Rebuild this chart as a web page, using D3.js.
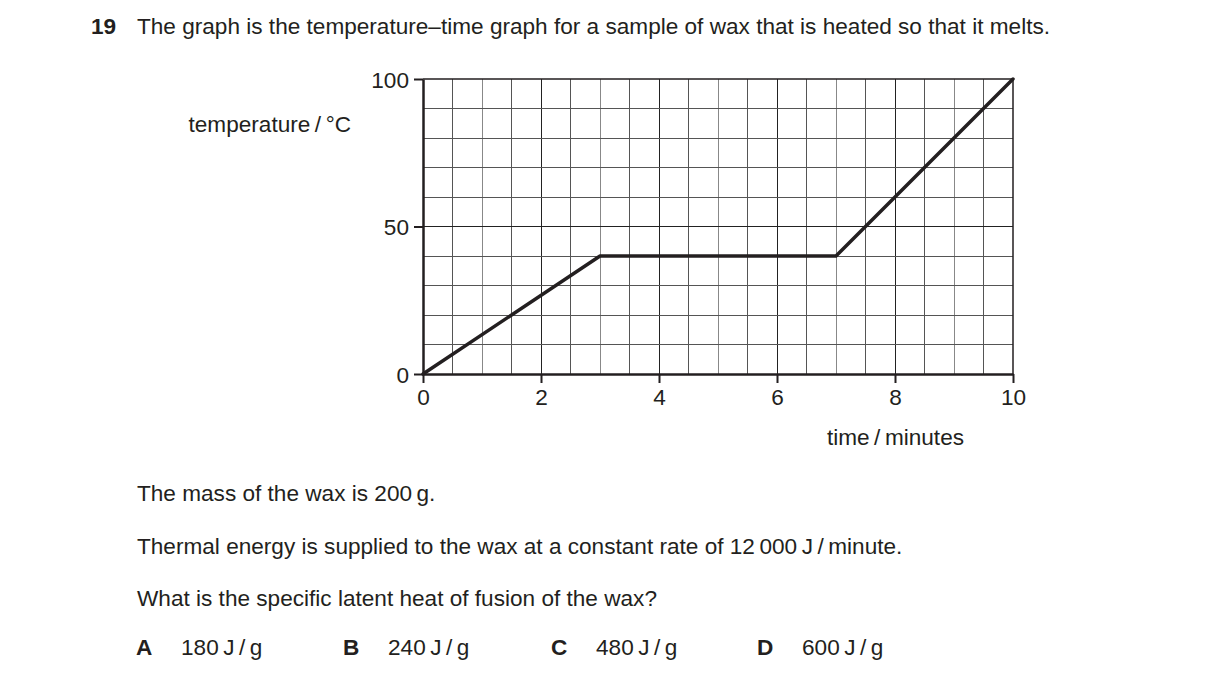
<!DOCTYPE html>
<html>
<head>
<meta charset="utf-8">
<script src="https://cdn.jsdelivr.net/npm/d3@7"></script>
<style>
body { margin: 0; background: #fff; }
svg { display: block; font-family: "Liberation Sans", Arial, sans-serif; fill: #231f20; }
</style>
</head>
<body>
<svg width="1216" height="684"></svg>
<script>
var svg = d3.select("svg");

// data
var times = [0, 3, 7, 10];          // minutes
var temps = [0, 40, 40, 100];       // degrees C
var xTicks = [0, 2, 4, 6, 8, 10];
var yTicks = [0, 50, 100];
var options = ["A", "B", "C", "D"];
var answers = ["180\u2009J\u2009/\u2009g", "240\u2009J\u2009/\u2009g", "480\u2009J\u2009/\u2009g", "600\u2009J\u2009/\u2009g"];

var ink = "#231f20";
var fs = 22.6;
var x = d3.scaleLinear().domain([0, 10]).range([423, 1013]);
var y = d3.scaleLinear().domain([0, 100]).range([374, 79]);

// question text
svg.append("text").attr("x", 91).attr("y", 34).attr("font-size", fs).attr("font-weight", "bold").text("19");
svg.append("text").attr("x", 137).attr("y", 34).attr("font-size", fs)
    .text("The graph is the temperature\u2013time graph for a sample of wax that is heated so that it melts.");

// grid: every 0.5 min and every 10 C
var grid = svg.append("g").attr("stroke-width", 1).attr("shape-rendering", "crispEdges");
grid.selectAll(".gx").data(d3.range(0.5, 10, 0.5)).enter().append("line")
    .attr("x1", function (d) { return x(d); }).attr("x2", function (d) { return x(d); })
    .attr("y1", y(0)).attr("y2", y(100))
    .attr("stroke", function (d) { return d % 2 === 0 ? "#222" : (d % 1 === 0 ? "#888" : "#555"); });
grid.selectAll(".gy").data(d3.range(10, 100, 10)).enter().append("line")
    .attr("y1", function (d) { return y(d); }).attr("y2", function (d) { return y(d); })
    .attr("x1", x(0)).attr("x2", x(10))
    .attr("stroke", function (d) { return d === 50 ? "#222" : "#555"; });
// top + right border
svg.append("path").attr("fill", "none").attr("stroke", ink).attr("stroke-width", 1.5)
    .attr("d", "M" + x(0) + "," + y(100) + "H" + x(10) + "V" + y(0));

// axes
var xAxis = svg.append("g").attr("transform", "translate(0," + y(0) + ")")
    .call(d3.axisBottom(x).tickValues(xTicks).tickSize(9).tickPadding(3).tickSizeOuter(0));
var yAxis = svg.append("g").attr("transform", "translate(" + x(0) + ",0)")
    .call(d3.axisLeft(y).tickValues(yTicks).tickSize(9).tickPadding(5).tickSizeOuter(0));
[xAxis, yAxis].forEach(function (a) {
    a.attr("font-family", null).attr("font-size", null);
    a.select(".domain").attr("stroke", ink).attr("stroke-width", 2.5);
    a.selectAll(".tick line").attr("stroke", ink).attr("stroke-width", 2);
    a.selectAll(".tick text").attr("fill", ink).style("font-size", fs + "px");
});
xAxis.selectAll(".tick text").attr("dy", "0.85em");
yAxis.selectAll(".tick text").attr("dy", "0.36em");

// axis titles
svg.append("text").attr("x", 351).attr("y", 132).attr("text-anchor", "end").attr("font-size", fs)
    .text("temperature\u2009/\u2009\u00b0C");
svg.append("text").attr("x", 964).attr("y", 445).attr("text-anchor", "end").attr("font-size", fs)
    .text("time\u2009/\u2009minutes");

// the heating curve
var line = d3.line().x(function (d) { return x(d[0]); }).y(function (d) { return y(d[1]); });
svg.append("path").datum(d3.zip(times, temps))
    .attr("fill", "none").attr("stroke", ink).attr("stroke-width", 3.5)
    .attr("stroke-linejoin", "round").attr("stroke-linecap", "round")
    .attr("d", line);

// rest of the question
var lines = [
    ["The mass of the wax is 200\u2009g.", 501],
    ["Thermal energy is supplied to the wax at a constant rate of 12\u2009000\u2009J\u2009/\u2009minute.", 554],
    ["What is the specific latent heat of fusion of the wax?", 606]
];
lines.forEach(function (l) {
    svg.append("text").attr("x", 137).attr("y", l[1]).attr("font-size", fs).text(l[0]);
});
var optX = [136, 343, 551, 757];
options.forEach(function (o, i) {
    svg.append("text").attr("x", optX[i]).attr("y", 655).attr("font-size", fs).attr("font-weight", "bold").text(o);
    svg.append("text").attr("x", optX[i] + 45).attr("y", 655).attr("font-size", fs).text(answers[i]);
});
</script>
</body>
</html>
